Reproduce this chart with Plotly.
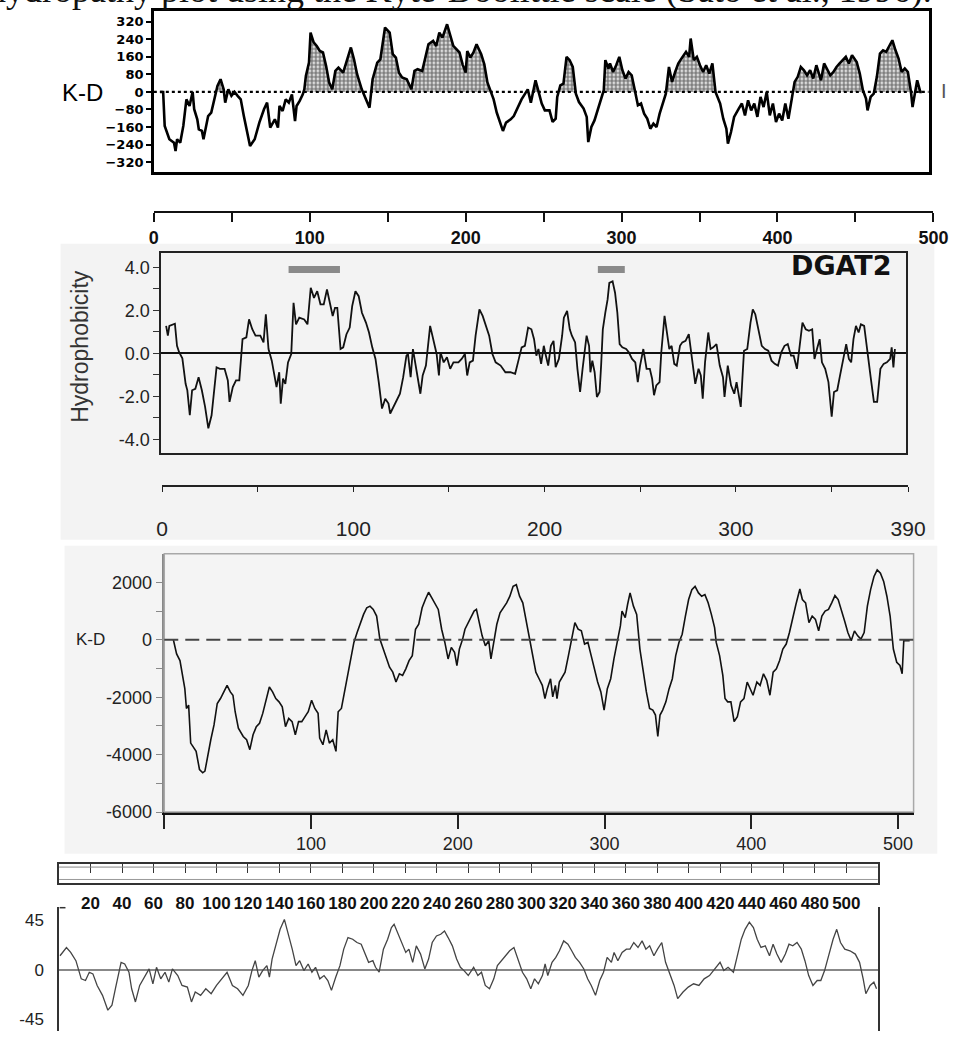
import numpy as np
import plotly.graph_objects as go

W, H = 967, 1041
def fx(px): return px / W
def fy(py): return 1 - py / H

# ---------------- Panel 1: Kyte-Doolittle (stippled) ----------------
p1_pos = [4,6,7,10,13,14,15,17,19,21,23,25,26,28,29,31,32,35,37,39,41,43,45,46,48,50,52,54,56,58,60,62,65,68,71,73,75,78,80,81,83,85,87,89,91,92,94,96,97,98,
          100,101,103,105,107,109,111,113,115,117,119,122,124,127,129,131,134,137,139,141,144,146,148,149,152,154,156,158,160,163,166,168,170,173,175,177,180,182,184,186,189,191,193,195,197,199,
          201,202,204,206,208,211,213,215,217,219,221,223,225,227,230,232,234,237,239,241,243,246,248,250,252,255,257,259,260,262,264,266,268,270,272,274,277,279,280,282,284,286,288,290,291,293,294,296,298,
          300,302,304,306,308,310,312,314,316,318,320,322,324,326,328,330,332,334,336,338,340,343,345,346,348,350,352,354,356,358,360,362,365,367,369,370,372,374,377,379,381,383,385,387,389,391,393,395,397,399,
          401,403,405,407,409,411,413,415,417,419,421,423,425,427,430,432,434,436,438,440,442,444,446,448,450,453,455,457,459,460,462,464,466,468,470,472,475,476,478,480,482,484,486,488,489,491,492,494,495]
p1_kd = [0,0,-155,-216,-232,-270,-216,-232,-155,-34,-64,0,-79,-125,-171,-178,-216,-110,-94,-34,27,58,12,-49,12,-18,0,-18,-34,-110,-186,-247,-216,-140,-79,-49,-163,-125,-163,-64,-87,-34,-49,-11,-133,-64,-41,-11,12,73,
         134,271,226,210,187,180,119,43,12,96,111,88,134,203,149,81,12,-34,-72,58,134,149,248,294,271,172,157,88,66,58,12,96,104,96,157,218,233,210,271,248,309,256,210,195,180,126,
         88,187,157,180,218,172,126,43,5,-34,-94,-140,-178,-140,-125,-110,-79,-34,-11,12,-49,53,0,-53,-84,-84,-137,-122,-23,30,38,160,145,114,-8,-46,-76,-114,-229,-160,-130,-84,-38,8,145,107,130,91,122,
         160,99,61,91,76,8,-61,-53,-99,-122,-168,-145,-160,-99,-53,-8,114,46,91,130,152,183,160,244,145,160,122,91,122,84,130,0,-53,-122,-168,-236,-183,-114,-76,-53,-107,-38,-84,-53,-114,-23,-69,0,-107,-53,
         -137,-99,-130,-53,-122,-38,46,69,114,99,76,99,61,122,53,130,99,76,91,114,130,145,160,130,168,137,84,8,-30,-84,-23,-8,69,175,190,183,221,236,190,152,91,107,91,0,-69,23,53,0,0]
p1_ticks = [-320,-240,-160,-80,0,80,160,240,320]

# ---------------- Ruler above DGAT2 (0-500) ----------------
ruler1_ticks = list(range(0, 501, 50))

# ---------------- Panel 2: DGAT2 hydrophobicity ----------------
p2_pos = [2.5,3.4,4.2,5.9,7.1,8.2,9.3,11.0,12.7,13.6,14.9,16.1,17.8,19.5,21.2,22.9,24.6,26.3,28.0,28.9,30.6,33.1,34.8,35.7,37.4,39.1,40.8,41.6,42.5,44.5,45.9,47.6,49.3,51.8,53.5,54.7,56.1,57.8,59.5,60.3,
          61.7,62.5,63.7,64.9,66.3,68.0,69.2,70.5,72.2,74.8,76.5,78.2,79.9,81.6,83.3,85.0,86.7,88.4,89.7,90.9,92.1,93.8,95.2,96.9,98.6,99.9,101.6,103.3,105.0,107.1,108.7,110.4,112.1,113.8,115.5,117.2,118.9,119.8,121.5,123.2,
          124.9,126.6,128.3,129.1,130.5,131.7,133.4,135.6,136.8,138.5,140.7,142.4,144.1,145.3,146.1,147.8,149.5,151.2,152.9,155.5,157.2,158.9,160.1,161.4,163.1,164.5,166.5,168.2,169.9,171.6,173.3,175.0,177.6,180.1,182.7,185.2,186.9,188.6,190.3,192.0,
          193.7,195.1,196.3,197.4,198.8,200.2,201.3,202.5,203.9,205.3,206.4,208.1,209.8,210.7,212.4,213.8,214.9,216.6,217.8,219.2,220.5,221.7,222.6,223.9,224.6,225.6,226.8,228.0,229.4,230.2,231.1,232.4,233.6,234.5,236.2,237.5,238.7,239.9,241.3,243.3,
          244.7,246.4,248.1,249.4,250.6,252.3,254.0,255.7,256.9,257.9,259.1,260.8,261.7,263.4,264.7,265.9,267.1,268.5,269.8,271.5,272.7,274.4,276.1,277.0,278.3,279.5,281.2,282.4,283.4,284.6,286.3,287.5,288.9,290.6,292.3,294.0,294.8,296.5,298.2,299.9,
          301.1,302.1,303.3,305.0,306.7,308.4,309.6,310.9,312.6,314.3,316.0,317.7,319.4,321.1,322.8,324.5,326.2,327.9,329.6,331.0,332.7,333.9,335.6,337.3,339.0,340.7,341.9,343.2,344.6,345.8,347.5,349.2,350.9,352.1,353.8,355.1,356.8,358.5,359.9,361.1,
          362.3,363.6,365.0,366.2,367.9,369.6,371.3,373.0,374.7,376.4,378.1,379.8,381.5,382.3,383.2,384.0]
p2_h = [1.28,0.82,1.28,1.35,1.38,0.35,0.05,-0.23,-1.42,-1.72,-2.88,-1.72,-1.65,-1.11,-1.72,-2.49,-3.49,-2.88,-1.57,-0.65,-0.72,-0.72,-1.26,-2.26,-1.57,-1.26,-1.26,-0.23,0.66,0.74,1.58,1.12,0.82,0.82,0.51,1.82,0.2,-0.34,-1.11,-1.57,
        -0.88,-2.34,-1.18,-1.42,-0.42,-0.03,2.35,1.35,1.66,1.58,1.35,3.05,2.58,2.89,2.28,2.28,2.97,2.28,1.74,2.12,2.12,0.2,0.28,0.89,1.2,2.2,2.89,2.66,1.89,1.43,0.97,0.28,-0.26,-1.34,-2.57,-2.11,-2.34,-2.8,-2.49,-2.11,
        -1.88,-1.11,-0.11,-0.03,-1.11,0.2,-0.65,-1.88,-1.03,-0.57,1.28,0.66,-0.03,-1.03,0.05,-0.42,-0.18,-0.72,-0.42,-0.42,-0.26,-0.03,-1.03,-0.42,-0.34,0.82,2.05,1.74,1.28,0.82,-0.03,-0.42,-0.57,-0.88,-0.88,-0.95,-0.34,0.28,0.35,1.2,
        1.12,0.66,-0.11,0.2,-0.49,0.35,-0.11,-0.57,0.35,0.58,-0.65,-0.26,0.82,1.66,1.97,1.12,0.82,0.51,-0.72,-1.8,-0.72,0.35,0.82,0.35,-0.88,-0.34,-0.88,-2.03,-1.8,-0.57,1.12,1.89,2.51,3.28,3.35,2.82,1.89,0.43,0.28,0.2,
        0.05,-0.26,-0.42,-1.34,-0.57,0.2,-0.72,-0.72,-1.18,-1.95,-1.49,-1.34,0.05,1.74,0.82,0.2,0.35,-0.49,-0.57,0.35,0.51,0.58,0.89,0.2,-0.72,-1.42,-0.72,-1.03,-2.11,-0.42,0.97,0.2,0.28,0.43,-0.57,-1.11,-2.03,-0.57,-1.49,-1.88,
        -1.34,-1.8,-2.49,0.12,0.2,1.43,2.05,1.82,1.12,0.35,0.2,0.12,-0.34,-0.49,-0.57,0.05,0.35,0.43,-0.11,-0.11,-0.72,0.2,1.43,1.12,1.05,1.12,-0.26,0.2,0.66,-0.42,-0.72,-1.34,-2.95,-1.8,-1.72,-1.11,-0.42,0.43,-0.26,-0.42,
        0.66,1.28,0.97,1.35,1.28,0.2,-1.11,-2.26,-2.26,-0.72,-0.49,-0.42,-0.26,0.28,-0.65,0.2]
p2_ticks = [-4,-3,-2,-1,0,1,2,3,4]
tm_start = [66.6, 228.5]
tm_end = [93.5, 242.6]
tm_level = 3.9
ruler2_ticks = [0,50,100,150,200,250,300,350,390]
ruler2_labels = ['0','','100','','200','','300','','390']

# ---------------- Panel 3: K-D (dashed zero) ----------------
p3_pos = [6.2,8.4,10.7,12.9,14.0,15.1,16.6,18.0,19.5,21.7,24.0,26.2,27.7,29.5,31.7,33.9,36.1,38.3,40.6,42.8,45.0,46.8,48.3,50.5,53.8,56.1,58.3,60.5,62.7,64.9,67.1,69.3,71.6,73.8,76.0,78.2,80.4,82.6,84.8,87.1,
          89.3,91.5,93.7,95.9,98.1,100.4,102.6,104.8,105.9,108.1,110.3,112.5,114.8,117.0,118.5,120.7,122.5,124.7,127.0,129.2,131.4,133.6,135.8,138.0,140.2,142.4,144.7,146.9,149.1,151.3,153.5,155.7,157.9,160.2,162.4,164.6,166.8,169.0,171.2,173.4,
          175.7,177.9,180.1,182.3,184.5,186.7,189.0,191.2,193.4,195.6,197.8,199.4,201.1,203.3,204.9,206.7,208.9,211.1,212.7,214.4,216.6,218.8,221.1,222.6,224.4,226.6,228.8,231.0,233.3,235.5,237.7,239.9,242.1,244.3,246.5,248.7,
          251.0,253.2,255.4,257.6,259.4,261.0,263.2,264.7,266.5,267.6,269.2,271.4,273.1,275.4,277.6,279.8,282.0,284.2,286.4,288.7,290.9,293.1,295.3,297.5,299.7,301.9,304.2,306.4,308.6,310.8,311.9,314.1,315.7,317.4,319.7,321.9,324.1,326.3,328.5,330.7,
          332.9,334.7,336.3,337.8,339.6,341.8,344.0,346.2,348.5,350.7,352.9,355.1,357.3,359.5,361.7,364.0,366.2,368.4,370.6,372.8,375.0,376.1,378.4,380.6,382.1,383.9,386.1,388.3,390.5,392.7,395.0,397.2,399.0,401.2,403.8,406.0,408.3,410.5,412.7,414.9,
          417.1,419.3,421.5,423.8,426.0,428.2,430.4,433.1,434.8,437.0,439.3,441.5,443.7,445.9,448.1,450.3,452.6,454.8,457.0,459.2,461.4,463.6,465.8,468.1,470.3,472.5,474.7,476.9,479.1,481.3,483.6,485.8,488.0,490.2,492.4,494.6,496.8,499.1,501.3,502.8,
          503.9,507.9]
p3_kd = [0,-494,-724,-1298,-1701,-2390,-2275,-3596,-3711,-3884,-4516,-4630,-4573,-4056,-3481,-2964,-2218,-2045,-1815,-1586,-1815,-1930,-2505,-3079,-3367,-3481,-3826,-3309,-3022,-2907,-2562,-2103,-1643,-1815,-2045,-2160,-2332,-3022,-2735,-2850,
         -3309,-2850,-2850,-2677,-2505,-2103,-2390,-2562,-3424,-3654,-3137,-3596,-3481,-3884,-2505,-2390,-1930,-1298,-724,-92,253,597,885,1115,1172,1057,827,23,-322,-666,-954,-1126,-1471,-1183,-1241,-1011,-724,-552,368,540,
         1115,1402,1655,1459,1229,1057,368,-92,-666,-264,-437,-896,-322,23,368,540,770,1000,1057,655,138,-207,-34,-666,-92,540,942,1115,1287,1517,1861,1919,1517,1287,712,80,
         -552,-1126,-1356,-1586,-2045,-1701,-1356,-1988,-1586,-2045,-1471,-1298,-1126,-552,80,597,368,310,-149,-92,-552,-1011,-1471,-1815,-2447,-1701,-1356,-666,-92,483,1000,770,1229,1632,1172,885,-322,-1126,-1815,-2390,
         -2447,-2620,-3367,-2620,-2447,-2160,-1701,-1356,-552,-92,195,827,1402,1746,1861,1632,1517,1574,1287,885,425,-92,-552,-1241,-2045,-2160,-2160,-2850,-2677,-2160,-2045,-1471,-1701,-1930,-1471,-1586,-1183,-1413,-1930,-1126,
         -1011,-724,-322,-149,253,770,1229,1770,1402,1287,597,827,712,310,827,1000,1057,1287,1540,1402,1057,655,253,-34,310,138,23,253,1172,1746,2206,2436,2321,2034,1517,827,-322,-781,-896,-1183,
         -34,-34]
p3_ticks = [-6000,-5000,-4000,-3000,-2000,-1000,0,1000,2000]
p3_xticks = [0,100,200,300,400,500]

# ---------------- Panel 4: ruler + profile ----------------
ruler4_ticks = list(range(20, 501, 20))
p4_pos = [0.6,4.7,7.4,10.7,14.1,16.8,19.2,21.5,24.2,27.6,31.0,33.6,36.0,39.4,41.7,44.4,46.1,48.5,51.2,54.5,57.2,59.6,61.9,64.6,67.3,69.7,72.0,75.4,78.1,81.5,84.1,86.5,89.9,93.2,96.6,100.0,103.3,106.7,110.1,113.4,
          116.8,120.2,122.5,124.6,126.9,129.3,132.0,133.6,135.3,138.0,140.4,143.1,145.4,148.1,150.5,152.8,155.5,158.2,160.6,162.9,165.6,168.3,170.7,173.0,175.7,178.4,180.8,183.5,186.5,189.2,191.9,194.3,196.6,199.3,201.0,203.3,206.0,208.7,211.1,212.8,
          215.5,217.8,220.2,222.2,224.6,226.9,229.6,232.3,234.7,237.0,239.7,242.4,244.8,247.1,249.8,252.5,254.9,257.2,259.9,263.3,266.0,268.3,270.7,273.4,276.1,278.4,280.8,283.5,286.2,288.9,291.9,294.3,297.0,299.6,302.0,304.4,307.0,308.7,310.4,313.1,
          315.5,317.8,320.5,323.2,325.6,327.9,330.6,333.3,335.7,338.0,340.7,343.4,345.8,348.1,350.8,352.5,354.9,357.6,360.3,362.6,365.0,367.7,370.3,372.7,375.1,377.8,380.1,382.8,385.2,387.9,390.6,392.9,396.3,399.6,403.0,406.4,409.7,413.1,416.5,419.8,
          422.2,424.9,428.3,430.9,433.3,435.7,438.4,441.0,443.4,445.8,448.5,451.2,453.5,455.9,458.6,461.3,463.6,466.0,468.7,471.4,473.7,476.1,478.8,481.5,483.8,486.2,488.9,491.6,493.9,496.3,499.0,502.3,505.7,508.4,510.7,512.4,515.1,517.5,519.2]
p4_h = [12.6,20.1,15.6,8.1,-8.4,-9.9,-2.4,-3.9,-14.4,-23.4,-36.9,-32.4,-15.9,6.6,5.1,-2.4,-17.4,-29.4,-14.4,-5.4,0.6,-12.9,2.1,-8.4,-2.4,-11.4,0.6,-5.4,-14.4,-15.9,-29.4,-20.4,-23.4,-17.4,-21.9,-14.4,-8.4,-2.4,-14.4,-17.4,
        -23.4,-14.4,-0.9,8.1,-6.9,-0.9,3.6,-6.9,9.6,24.6,36.6,45.6,33.6,18.6,3.6,8.1,-0.9,5.1,-2.4,2.1,-8.4,-5.4,-9.9,-18.9,-6.9,3.6,18.6,29.1,27.6,24.6,23.1,14.1,6.6,8.1,2.1,-2.4,18.6,27.6,38.1,41.1,
        32.1,24.6,15.6,18.6,6.6,21.6,14.1,0.6,9.6,24.6,30.6,32.1,35.1,29.1,21.6,9.6,2.1,-0.9,-5.4,2.1,-5.4,-2.4,-14.4,-17.4,-8.4,3.6,8.1,12.6,17.1,20.1,6.6,-2.4,-8.4,-17.4,-8.4,-12.9,-5.4,5.1,-5.4,6.6,
        11.1,17.1,26.1,23.1,17.1,11.1,6.6,0.6,-8.4,-14.4,-23.4,-9.9,-2.4,11.1,6.6,15.6,8.1,15.6,18.6,18.6,24.6,20.1,26.1,18.6,21.6,12.6,18.6,24.6,6.6,-3.9,-14.4,-26.4,-20.4,-15.9,-12.9,-14.4,-8.4,-5.4,0.6,6.6,
        -0.9,2.1,-2.4,12.6,27.6,36.6,43.2,38.1,27.6,20.1,21.6,12.6,23.1,14.1,6.6,14.1,23.1,21.6,24.6,18.6,8.1,-5.4,-14.4,-9.9,-9.9,-0.9,14.1,27.6,36.6,24.6,18.6,17.1,14.1,6.6,-8.4,-21.9,-14.4,-11.4,-17.4]
p4_ticks = [-45, 0, 45]


def positive_part(xs, ys):
    ox, oy = [], []
    for i in range(len(xs)):
        if i > 0 and (ys[i - 1] > 0) != (ys[i] > 0) and ys[i - 1] != ys[i]:
            t = ys[i - 1] / (ys[i - 1] - ys[i])
            ox.append(xs[i - 1] + t * (xs[i] - xs[i - 1]))
            oy.append(0)
        ox.append(xs[i])
        oy.append(max(ys[i], 0))
    return ox, oy


fill_x, fill_y = positive_part(p1_pos, p1_kd)

NARROW = 'Liberation Sans Narrow, Arial Narrow, Liberation Sans, Arial'
SANS = 'Liberation Sans, Arial, Helvetica'

fig = go.Figure()
# Panel 1
fig.add_trace(go.Scatter(x=fill_x, y=fill_y, mode='lines', fill='tozeroy', line=dict(width=0, color='black'),
                         fillcolor='rgba(0,0,0,0)',
                         fillpattern=dict(shape='.', fgcolor='#000', bgcolor='white', size=4, solidity=0.7),
                         hoverinfo='skip', xaxis='x', yaxis='y'))
fig.add_trace(go.Scatter(x=p1_pos, y=p1_kd, mode='lines', line=dict(color='black', width=2.6), xaxis='x', yaxis='y'))
fig.add_trace(go.Scatter(x=[], y=[], xaxis='x2', yaxis='y2'))
# Panel 2
fig.add_trace(go.Scatter(x=p2_pos, y=p2_h, mode='lines', line=dict(color='#111', width=1.8), xaxis='x3', yaxis='y3'))
fig.add_trace(go.Scatter(x=[], y=[], xaxis='x4', yaxis='y4'))
# Panel 3
fig.add_trace(go.Scatter(x=p3_pos, y=p3_kd, mode='lines', line=dict(color='#111', width=1.6), xaxis='x5', yaxis='y5'))
# Panel 4
fig.add_trace(go.Scatter(x=[], y=[], xaxis='x6', yaxis='y6'))
fig.add_trace(go.Scatter(x=[], y=[], xaxis='x7', yaxis='y6'))
fig.add_trace(go.Scatter(x=p4_pos, y=p4_h, mode='lines', line=dict(color='#444', width=1.3), xaxis='x8', yaxis='y8'))

shapes = [
    dict(type='rect', xref='paper', yref='paper', x0=fx(56), x1=fx(952), y0=fy(545), y1=fy(246),
         fillcolor='#f3f3f3', line=dict(width=0), layer='below'),
    dict(type='rect', xref='paper', yref='paper', x0=fx(60), x1=fx(955), y0=fy(862), y1=fy(551),
         fillcolor='#f4f4f4', line=dict(width=0), layer='below'),
    dict(type='line', xref='x domain', yref='y', x0=0, x1=1, y0=0, y1=0,
         line=dict(color='black', width=2.2, dash='dot')),
    dict(type='rect', xref='x5 domain', yref='y5 domain', x0=0, x1=1, y0=0, y1=1,
         line=dict(color='#a8a8a8', width=1.5)),
    dict(type='line', xref='x5 domain', yref='y5', x0=0, x1=1, y0=0, y1=0,
         line=dict(color='#444', width=2, dash='14px,7px')),
    dict(type='line', xref='x6 domain', yref='paper', x0=0, x1=1, y0=fy(875.5), y1=fy(875.5),
         line=dict(color='#888', width=1)),
    dict(type='line', xref='x6 domain', yref='paper', x0=0, x1=1, y0=fy(888), y1=fy(888),
         line=dict(color='#999', width=1)),
    dict(type='line', xref='paper', yref='paper', x0=fx(55), x1=fx(61), y0=fy(916.5), y1=fy(916.5),
         line=dict(color='#333', width=1.5)),
]
for s, e in zip(tm_start, tm_end):
    shapes.append(dict(type='line', xref='x3', yref='y3', x0=s, x1=e, y0=tm_level, y1=tm_level,
                       line=dict(color='#8a8a8a', width=7)))

annotations = [
    dict(text='derived from the hydropathy plot using the Kyte-Doolittle scale (Sato et al., 1996).',
         xref='paper', yref='paper', x=fx(952), y=fy(12), xanchor='right', yanchor='bottom', showarrow=False,
         font=dict(family='Liberation Serif, Times New Roman', size=36, color='#111')),
    dict(text='K-D', xref='paper', yref='paper', x=fx(78), y=fy(93), xanchor='center', yanchor='middle',
         showarrow=False, font=dict(family=SANS, size=24, color='black')),
    dict(text='I', xref='paper', yref='paper', x=fx(962), y=fy(92), xanchor='center', yanchor='middle',
         showarrow=False, font=dict(family=SANS, size=20, color='#555')),
    dict(text='DGAT2', xref='paper', yref='paper', x=fx(857), y=fy(268), xanchor='center', yanchor='middle',
         showarrow=False, font=dict(family='DejaVu Sans', size=27, color='#111', weight='bold')),
    dict(text='Hydrophobicity', xref='paper', yref='paper', x=fx(75), y=fy(350), xanchor='center',
         yanchor='middle', showarrow=False, textangle=-90,
         font=dict(family=SANS, size=23, color='#333')),
    dict(text='K-D', xref='paper', yref='paper', x=fx(87), y=fy(646), xanchor='center', yanchor='middle',
         showarrow=False, font=dict(family=SANS, size=17, color='#222')),
]

noline = dict(showgrid=False, zeroline=False)

fig.update_layout(
    width=W, height=H, margin=dict(l=0, r=0, t=0, b=0), autosize=False,
    paper_bgcolor='white', plot_bgcolor='rgba(0,0,0,0)', showlegend=False,
    shapes=shapes, annotations=annotations,
    xaxis=dict(domain=[fx(151.6), fx(946)], range=[0, 499.3], showline=True, mirror=True, linecolor='black',
               linewidth=2.5, ticks='', showticklabels=False, **noline),
    yaxis=dict(domain=[fy(174), fy(11)], range=[-367, 370], showline=True, mirror=True, linecolor='black',
               linewidth=2.5, ticks='outside', ticklen=5, tickwidth=1.5, tickcolor='black',
               tickvals=p1_ticks, ticktext=[str(v).replace('-', '\u2212') for v in p1_ticks],
               tickfont=dict(family='DejaVu Sans', size=13, color='black', weight='bold'), **noline),
    xaxis2=dict(domain=[fx(151.6), fx(951)], range=[0, 500], anchor='y2', side='bottom', showline=True,
                linecolor='#111', linewidth=2, ticks='outside', ticklen=9, tickwidth=1.5, tickcolor='#111',
                tickvals=ruler1_ticks, ticktext=[str(v) if v % 100 == 0 else '' for v in ruler1_ticks],
                tickangle=0, tickfont=dict(family=NARROW, size=18, color='#111', weight='bold'), **noline),
    yaxis2=dict(domain=[fy(213), fy(205)], range=[0, 1], visible=False),
    xaxis3=dict(domain=[fx(159.3), fx(923.3)], range=[0, 390], anchor='y3', showline=True, mirror=True,
                linecolor='#222', linewidth=2, ticks='', showticklabels=False, **noline),
    yaxis3=dict(domain=[fy(457), fy(255)], range=[-4.62, 4.69], anchor='x3', showline=True, mirror=True,
                linecolor='#222', linewidth=2, ticks='outside', ticklen=6, tickwidth=1.2, tickcolor='#333',
                tickvals=p2_ticks, ticktext=[('%.1f' % v) if v % 2 == 0 else '' for v in p2_ticks],
                tickfont=dict(family=SANS, size=18, color='#222'), showgrid=False,
                zeroline=True, zerolinecolor='#111', zerolinewidth=1.6),
    xaxis4=dict(domain=[fx(160), fx(925)], range=[0, 390], anchor='y4', side='bottom', showline=True,
                linecolor='#222', linewidth=2.2, ticks='outside', ticklen=5, tickwidth=1.3, tickcolor='#222',
                tickvals=ruler2_ticks, ticktext=ruler2_labels, ticklabelstandoff=18, tickangle=0,
                tickfont=dict(family=SANS, size=21, color='#222'), **noline),
    yaxis4=dict(domain=[fy(490), fy(482)], range=[0, 1], visible=False),
    xaxis5=dict(domain=[fx(162.3), fx(930.7)], range=[0, 510.6], anchor='y5', showline=True, linecolor='#111',
                linewidth=2.5, ticks='outside', ticklen=14, tickwidth=1.5, tickcolor='#222',
                tickvals=p3_xticks, ticktext=['' if v == 0 else str(v) for v in p3_xticks], tickangle=0,
                tickfont=dict(family=SANS, size=18, color='#222'), **noline),
    yaxis5=dict(domain=[fy(820), fy(559)], range=[-6000, 3000], anchor='x5', showline=True, linecolor='#888',
                linewidth=1.5, ticks='outside', ticklen=7, tickwidth=1.2, tickcolor='#888',
                tickvals=p3_ticks, ticktext=[str(v) if v % 2000 == 0 else '' for v in p3_ticks],
                tickfont=dict(family=SANS, size=18, color='#222'), **noline),
    xaxis6=dict(domain=[fx(54.4), fx(894)], range=[0, 520], anchor='y6', side='bottom', showline=True,
                mirror=True, linecolor='#333', linewidth=1.8, ticks='', tickvals=ruler4_ticks,
                ticktext=[str(v) for v in ruler4_ticks], ticklabelstandoff=3, tickangle=0,
                tickfont=dict(family=NARROW, size=17, color='#111', weight='bold'), **noline),
    xaxis7=dict(overlaying='x6', anchor='y6', side='top', range=[0, 520], showline=False, ticks='inside',
                ticklen=9, tickwidth=1.2, tickcolor='#333', tickvals=ruler4_ticks, showticklabels=False,
                **noline),
    yaxis6=dict(domain=[fy(892), fy(872)], range=[0, 1], anchor='x6', showline=True, mirror=True,
                linecolor='#333', linewidth=1.5, ticks='', showticklabels=False, **noline),
    xaxis8=dict(domain=[fx(54.4), fx(894)], range=[0, 520], anchor='y8', showline=False, ticks='',
                showticklabels=False, **noline),
    yaxis8=dict(domain=[0, fy(916)], range=[-55.8, 56.7], anchor='x8', showline=True, mirror=True,
                linecolor='#333', linewidth=1.5, ticks='', tickvals=p4_ticks,
                ticktext=[str(v) for v in p4_ticks], ticklabelstandoff=10,
                tickfont=dict(family=SANS, size=17, color='#222'), showgrid=False,
                zeroline=True, zerolinecolor='#888', zerolinewidth=2),
)

fig.write_html('out.html')
